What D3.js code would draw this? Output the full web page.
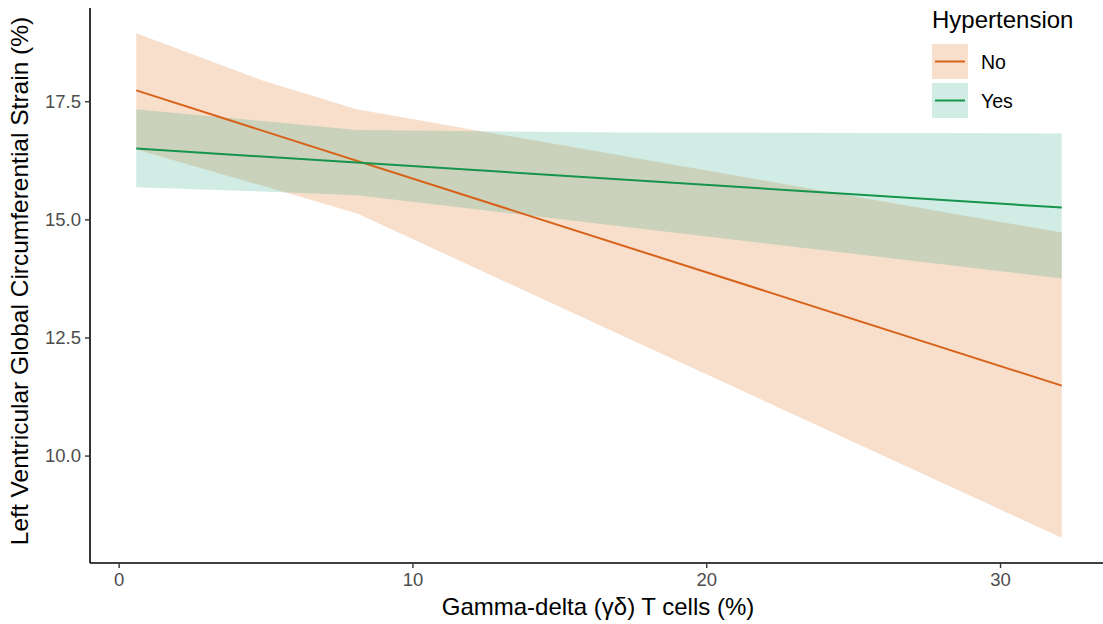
<!DOCTYPE html>
<html lang="en">
<head>
  <meta charset="utf-8">
  <title>Hypertension</title>
  <script src="https://d3js.org/d3.v7.min.js"></script>
  <style>
    body { margin: 0; background: #fff; }
    #chart text { font-family: "Liberation Sans", Arial, sans-serif; }
  </style>
</head>
<body>
  <div id="chart"></div>
  <script>
    "use strict"

    // dados
    var grupos = ["No", "Yes"];
    var cores = ["#d95f02", "#1b9e77"];
    var coresLinha = ["#d8621a", "#16944c"];
    var xGrade = [0.6, 4.9, 8.1, 17.0, 32.1];
    var noSup = [18.94, 17.94, 17.33, 16.36, 14.72];
    var noInf = [16.48, 15.71, 15.13, 12.58, 8.26];
    var yesSup = [17.33, 17.08, 16.89, 16.84, 16.82];
    var yesInf = [15.68, 15.59, 15.51, 14.86, 13.75];
    var retaX = [0.6, 32.1];
    var noReta = [17.73, 11.48];
    var yesReta = [16.50, 15.25];
    var xTicks = [0, 10, 20, 30];
    var yTicks = [10.0, 12.5, 15.0, 17.5];

    var largura = 1103, altura = 624;
    var margem = {top: 8, left: 90, bottom: 61};
    var direita = 1108;

    var svg = d3.select("#chart").append("svg")
      .attr("width", largura).attr("height", altura);

    // expansao de 5% como no ggplot
    var xExt = d3.extent(retaX), yExt = d3.extent(noSup.concat(noInf, yesSup, yesInf));
    var dx = (xExt[1] - xExt[0]) * 0.05, dy = (yExt[1] - yExt[0]) * 0.05;

    var x = d3.scaleLinear().domain([xExt[0] - dx, xExt[1] + dx]).range([margem.left, direita]);
    var y = d3.scaleLinear().domain([yExt[0] - dy, yExt[1] + dy]).range([altura - margem.bottom, margem.top]);

    var series = [
      {nome: grupos[0], cor: cores[0], corLinha: coresLinha[0], sup: noSup, inf: noInf, reta: noReta},
      {nome: grupos[1], cor: cores[1], corLinha: coresLinha[1], sup: yesSup, inf: yesInf, reta: yesReta}
    ];

    var area = d3.area()
      .x(d => x(d.x)).y0(d => y(d.inf)).y1(d => y(d.sup));
    var linha = d3.line().x(d => x(d.x)).y(d => y(d.y));

    svg.selectAll("path.faixa")
      .data(series)
      .enter().append("path")
        .attr("class", "faixa")
        .attr("fill", d => d.cor)
        .attr("fill-opacity", 0.2)
        .attr("d", d => area(xGrade.map((v, i) => ({x: v, sup: d.sup[i], inf: d.inf[i]}))));

    svg.selectAll("path.reta")
      .data(series)
      .enter().append("path")
        .attr("class", "reta")
        .attr("fill", "none")
        .attr("stroke", d => d.corLinha)
        .attr("stroke-width", 2)
        .attr("d", d => linha(retaX.map((v, i) => ({x: v, y: d.reta[i]}))));

    // eixos
    var eixoX = svg.append("g")
      .attr("transform", "translate(0," + (altura - margem.bottom) + ")")
      .call(d3.axisBottom(x).tickValues(xTicks).tickSize(5).tickPadding(5).tickFormat(d3.format("d")));
    var eixoY = svg.append("g")
      .attr("transform", "translate(" + margem.left + ",0)")
      .call(d3.axisLeft(y).tickValues(yTicks).tickSize(5).tickPadding(4).tickFormat(d3.format(".1f")));

    [eixoX, eixoY].forEach(function(g) {
      g.select(".domain").attr("stroke", "#000").attr("stroke-width", 1.6);
      g.selectAll(".tick line").attr("stroke", "#333").attr("stroke-width", 1.4);
      g.selectAll(".tick text").attr("fill", "#4d4d4d").style("font-size", "18.5px");
    });
    eixoX.select(".domain").attr("d", "M" + margem.left + ",0H" + direita);
    eixoY.select(".domain").attr("d", "M0," + margem.top + "V" + (altura - margem.bottom));

    svg.append("text")
      .attr("x", 598)
      .attr("y", 615)
      .attr("text-anchor", "middle")
      .style("font-size", "24px")
      .text("Gamma-delta (γδ) T cells (%)");

    svg.append("text")
      .attr("transform", "translate(28,281) rotate(-90)")
      .attr("text-anchor", "middle")
      .style("font-size", "24.5px")
      .text("Left Ventricular Global Circumferential Strain (%)");

    // legenda
    var leg = svg.append("g").attr("transform", "translate(932,0)");
    leg.append("text").attr("x", 0).attr("y", 28).style("font-size", "24px").text("Hypertension");
    var item = leg.selectAll("g.item").data(series).enter().append("g")
      .attr("class", "item")
      .attr("transform", (d, i) => "translate(0," + (44 + i * 39) + ")");
    item.append("rect").attr("width", 36).attr("height", 35)
      .attr("fill", d => d.cor).attr("fill-opacity", 0.2);
    item.append("line").attr("x1", 3).attr("x2", 33).attr("y1", 17.5).attr("y2", 17.5)
      .attr("stroke", d => d.corLinha).attr("stroke-width", 2);
    item.append("text").attr("x", 49).attr("y", 25).style("font-size", "19.5px").text(d => d.nome);
  </script>
</body>
</html>
